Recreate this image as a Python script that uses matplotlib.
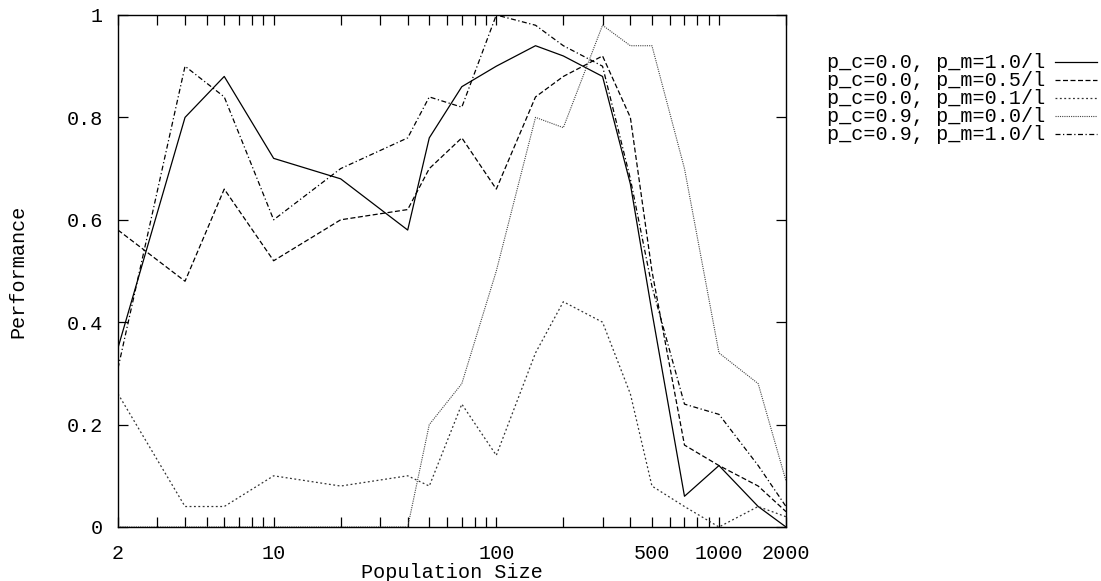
import matplotlib
matplotlib.use("Agg")
import matplotlib.pyplot as plt
from matplotlib.lines import Line2D
from matplotlib.ticker import LogLocator, FixedLocator, FixedFormatter, NullFormatter

pop_size = [2, 4, 6, 10, 20, 40, 50, 70, 100, 150, 200, 300, 400, 500, 700, 1000, 1500, 2000]

perf_c00_m10 = [0.35, 0.80, 0.88, 0.72, 0.68, 0.58, 0.76, 0.86, 0.90, 0.94, 0.92, 0.88, 0.67, 0.42, 0.06, 0.12, 0.04, 0.00]
perf_c00_m05 = [0.58, 0.48, 0.66, 0.52, 0.60, 0.62, 0.70, 0.76, 0.66, 0.84, 0.88, 0.92, 0.80, 0.50, 0.16, 0.12, 0.08, 0.03]
perf_c00_m01 = [0.26, 0.04, 0.04, 0.10, 0.08, 0.10, 0.08, 0.24, 0.14, 0.34, 0.44, 0.40, 0.26, 0.08, 0.04, 0.00, 0.04, 0.02]
perf_c09_m00 = [0.00, 0.00, 0.00, 0.00, 0.00, 0.00, 0.20, 0.28, 0.50, 0.80, 0.78, 0.98, 0.94, 0.94, 0.70, 0.34, 0.28, 0.09]
perf_c09_m10 = [0.31, 0.90, 0.84, 0.60, 0.70, 0.76, 0.84, 0.82, 1.00, 0.98, 0.94, 0.90, 0.68, 0.47, 0.24, 0.22, 0.12, 0.04]

labels = ["p_c=0.0, p_m=1.0/l", "p_c=0.0, p_m=0.5/l", "p_c=0.0, p_m=0.1/l",
          "p_c=0.9, p_m=0.0/l", "p_c=0.9, p_m=1.0/l"]
series = [perf_c00_m10, perf_c00_m05, perf_c00_m01, perf_c09_m00, perf_c09_m10]

xticks = [2, 10, 100, 500, 1000, 2000]
xticklabels = ["2", "10", "100", "500", "1000", "2000"]
yticks = [0, 0.2, 0.4, 0.6, 0.8, 1]
yticklabels = ["0", "0.2", "0.4", "0.6", "0.8", "1"]

styles = [
    dict(color="black", lw=0.9, linestyle="-"),
    dict(color="black", lw=0.9, linestyle=(0, (4, 2))),
    dict(color="#333333", lw=0.9, linestyle=(0, (1.5, 2))),
    dict(color="#444444", lw=0.8, linestyle=(0, (1, 1))),
    dict(color="black", lw=0.9, linestyle=(0, (4, 2, 1, 2))),
]

FONT = "Liberation Mono"
FS = 14.5

W, H = 1101, 581
fig = plt.figure(figsize=(W / 100, H / 100), dpi=100)
L, R, T, B = 118, 786, 15, 527
ax = fig.add_axes([L / W, 1 - B / H, (R - L) / W, (B - T) / H])

for y, st in zip(series, styles):
    ax.plot(pop_size, y, **st)

ax.set_xscale("log")
ax.set_xlim(2, 2000)
ax.set_ylim(0, 1)
ax.xaxis.set_major_locator(FixedLocator(xticks))
ax.xaxis.set_major_formatter(FixedFormatter(xticklabels))
ax.xaxis.set_minor_locator(LogLocator(base=10, subs=range(2, 10), numticks=50))
ax.xaxis.set_minor_formatter(NullFormatter())
ax.yaxis.set_major_locator(FixedLocator(yticks))
ax.yaxis.set_major_formatter(FixedFormatter(yticklabels))

ax.tick_params(which="both", direction="in", top=True, right=True, length=7, width=0.9,
               labelsize=FS)
ax.tick_params(axis="x", pad=12)
ax.tick_params(axis="y", pad=11)
for lab in ax.get_xticklabels() + ax.get_yticklabels():
    lab.set_fontfamily(FONT)
for sp in ax.spines.values():
    sp.set_linewidth(1.0)

ax.set_xlabel("Population Size", fontsize=FS, fontfamily=FONT, labelpad=0)
ax.set_ylabel("Performance", fontsize=FS, fontfamily=FONT, labelpad=28)

row_y = [62, 80, 98, 116, 134]
for lab, st, yy in zip(labels, styles, row_y):
    fig.text(1045 / W, 1 - yy / H, lab, ha="right", va="center", fontsize=FS, fontfamily=FONT)
    fig.add_artist(Line2D([1055 / W, 1097 / W], [1 - yy / H, 1 - yy / H],
                          transform=fig.transFigure, **st))

fig.savefig("out.png", dpi=100)
